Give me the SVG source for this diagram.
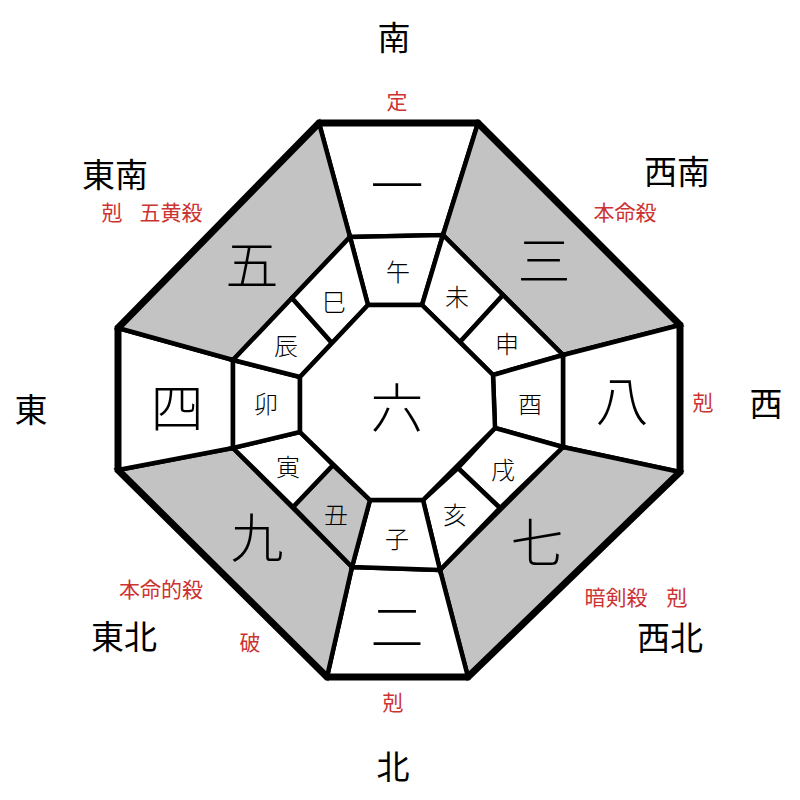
<svg xmlns="http://www.w3.org/2000/svg" width="800" height="800" viewBox="0 0 800 800">
<style>
.cell{fill:#ffffff;stroke:#000;stroke-width:4.5;stroke-linejoin:miter}
.gray{fill:#c3c3c3}
.outer{fill:none;stroke:#000;stroke-width:7;stroke-linejoin:miter}
text{font-family:"Noto Sans CJK JP","Noto Sans CJK SC",sans-serif;text-anchor:middle;dominant-baseline:central}
.num{font-size:53px;font-weight:300;fill:#000}
.br{font-size:24px;font-weight:300;fill:#000}
.dir{font-size:33px;fill:#000}
.red{font-size:21px;fill:#cc3333}
</style>
<rect width="800" height="800" fill="#fff"/>
<g id="sectors">
<g id="s1"><polygon class="cell" points="319,123 478,123 443,235 350,237"/><text class="num" x="397" y="183">一</text></g>
<g id="s3"><polygon class="cell gray" points="478,123 680,325 563,355 443,235"/><text class="num" x="544" y="258">三</text></g>
<g id="s8"><polygon class="cell" points="680,325 680,472 563,447 563,355"/><text class="num" x="622" y="398">八</text></g>
<g id="s7"><polygon class="cell gray" points="680,472 468,677 440,570 563,447"/><text class="num" x="537" y="540">七</text></g>
<g id="s2"><polygon class="cell" points="468,677 327,677 352,567 440,570"/><text class="num" x="397" y="624">二</text></g>
<g id="s9"><polygon class="cell gray" points="327,677 118,470 233,448 352,567"/><text class="num" x="257" y="535">九</text></g>
<g id="s4"><polygon class="cell" points="118,470 118,328 233,360 233,448"/><text class="num" x="177" y="405">四</text></g>
<g id="s5"><polygon class="cell gray" points="118,328 319,123 350,237 233,360"/><text class="num" x="252" y="262">五</text></g>
</g>
<g id="branches">
<g id="b-wu"><polygon class="cell" points="350,237 443,235 422,305 368,305"/><text class="br" x="398" y="270">午</text></g>
<g id="b-wei"><polygon class="cell" points="443,235 503,295 460,342 422,305"/><text class="br" x="457" y="295">未</text></g>
<g id="b-shen"><polygon class="cell" points="503,295 563,355 493,375 460,342"/><text class="br" x="507" y="342">申</text></g>
<g id="b-you"><polygon class="cell" points="563,355 563,447 495,428 493,375"/><text class="br" x="530" y="402">酉</text></g>
<g id="b-xu"><polygon class="cell" points="563,447 500,508 458,468 495,428"/><text class="br" x="503" y="468">戌</text></g>
<g id="b-hai"><polygon class="cell" points="500,508 440,570 423,500 458,468"/><text class="br" x="455" y="513">亥</text></g>
<g id="b-zi"><polygon class="cell" points="440,570 352,567 370,500 423,500"/><text class="br" x="397" y="537">子</text></g>
<g id="b-chou"><polygon class="cell gray" points="352,567 293,507 333,465 370,500"/><text class="br" x="336" y="513">丑</text></g>
<g id="b-yin"><polygon class="cell" points="293,507 233,448 300,432 333,465"/><text class="br" x="288" y="465">寅</text></g>
<g id="b-mao"><polygon class="cell" points="233,448 233,360 300,377 300,432"/><text class="br" x="266" y="402">卯</text></g>
<g id="b-chen"><polygon class="cell" points="233,360 292,298 332,343 300,377"/><text class="br" x="286" y="344">辰</text></g>
<g id="b-si"><polygon class="cell" points="292,298 350,237 368,305 332,343"/><text class="br" x="334" y="300">巳</text></g>
</g>
<g id="center"><polygon class="cell" points="368,305 422,305 493,375 495,428 423,500 370,500 300,432 300,377"/><text class="num" x="397" y="405">六</text></g>
<g id="outline"><polygon class="outer" points="319,123 478,123 680,325 680,472 468,677 327,677 118,470 118,328"/></g>
<g id="directions">
<text class="dir" x="394" y="36">南</text>
<text class="dir" x="115" y="173">東南</text>
<text class="dir" x="677" y="170">西南</text>
<text class="dir" x="31" y="408">東</text>
<text class="dir" x="766" y="402">西</text>
<text class="dir" x="124" y="635">東北</text>
<text class="dir" x="670" y="636">西北</text>
<text class="dir" x="393" y="765">北</text>
</g>
<g id="notes">
<text class="red" x="397" y="100">定</text>
<text class="red" x="112" y="211">剋</text>
<text class="red" x="171" y="211">五黄殺</text>
<text class="red" x="625" y="211">本命殺</text>
<text class="red" x="703" y="401">剋</text>
<text class="red" x="161" y="588">本命的殺</text>
<text class="red" x="250" y="641">破</text>
<text class="red" x="616" y="596">暗剣殺</text>
<text class="red" x="677" y="596">剋</text>
<text class="red" x="393" y="701">剋</text>
</g>
</svg>
